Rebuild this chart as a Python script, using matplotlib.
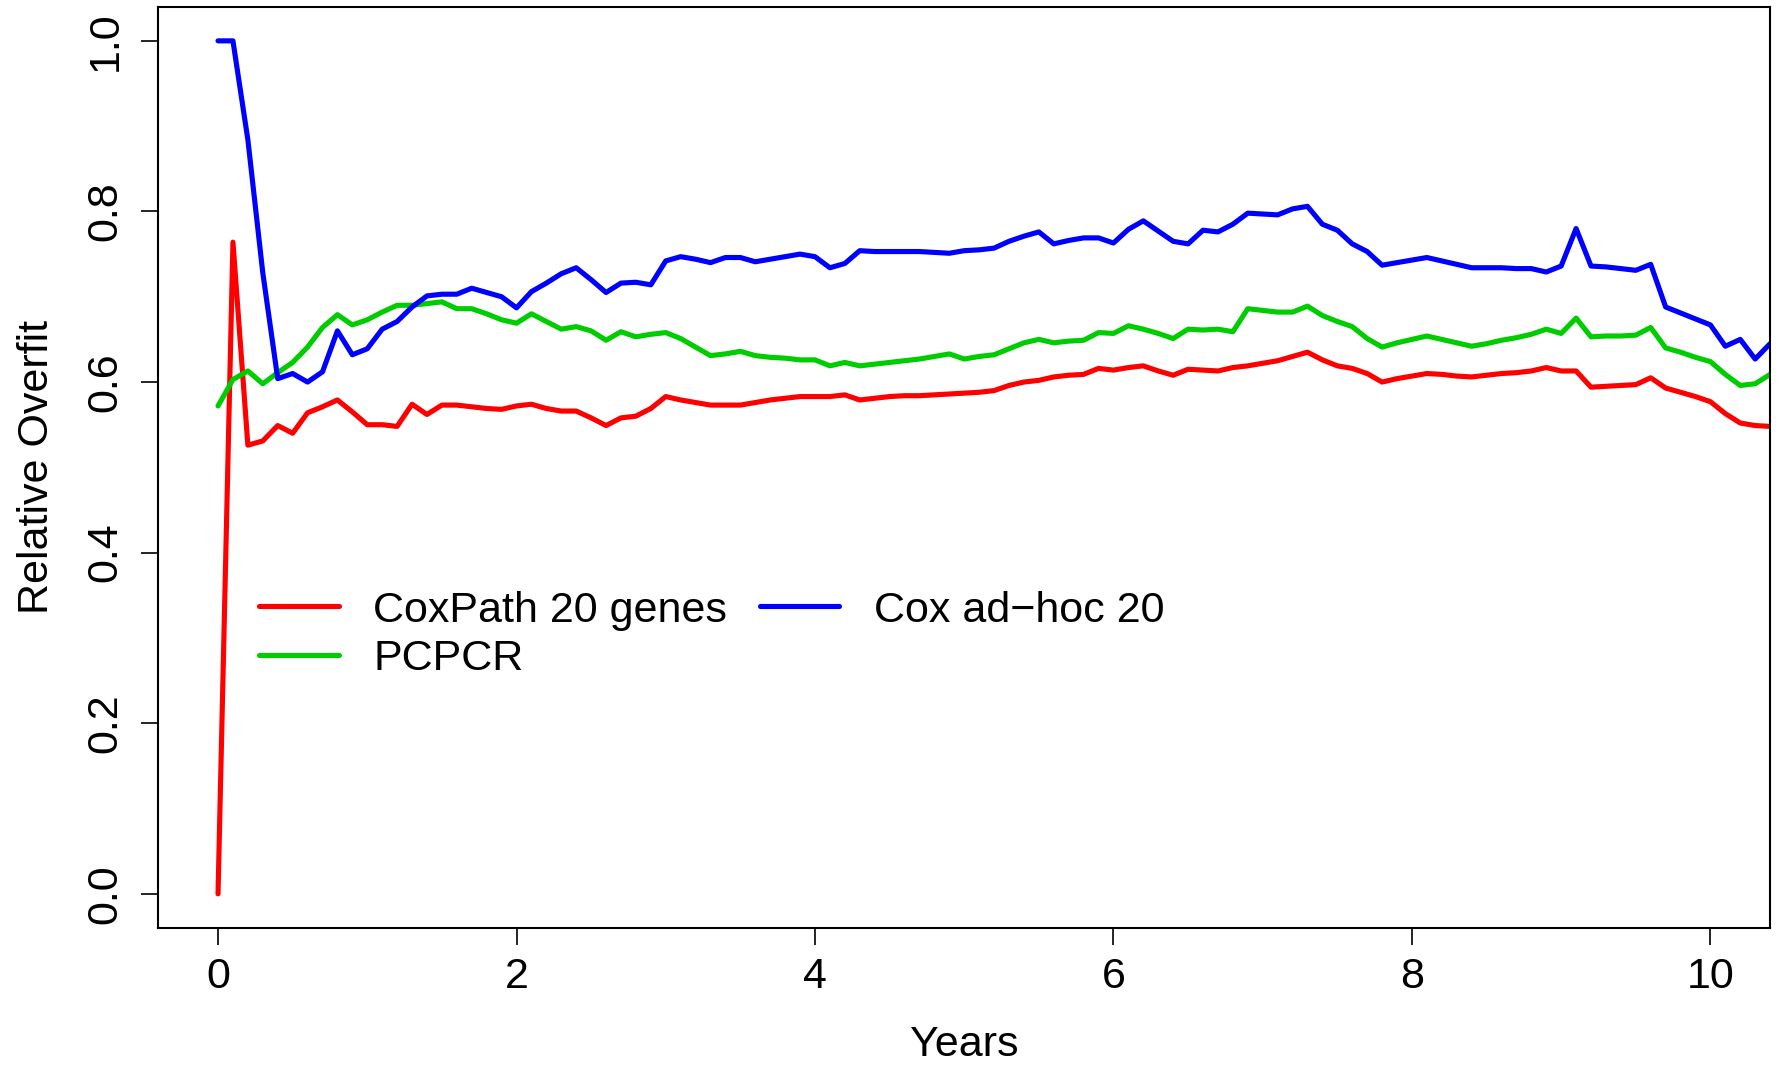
import numpy as np
import matplotlib
matplotlib.use("Agg")
import matplotlib.pyplot as plt

plt.rcParams['font.family'] = ['Liberation Sans', 'DejaVu Sans']

# time grid (years), one value every 0.1 year
years = np.round(np.arange(0, 10.41, 0.1), 1)

coxpath_20 = [
    0.000, 0.764, 0.526, 0.531, 0.549, 0.540, 0.564, 0.571, 0.579, 0.565,
    0.550, 0.550, 0.548, 0.574, 0.562, 0.573, 0.573, 0.571, 0.569, 0.568,
    0.572, 0.574, 0.569, 0.566, 0.566, 0.558, 0.549, 0.558, 0.560, 0.569,
    0.583, 0.579, 0.576, 0.573, 0.573, 0.573, 0.576, 0.579, 0.581, 0.583,
    0.583, 0.583, 0.585, 0.579, 0.581, 0.583, 0.584, 0.584, 0.585, 0.586,
    0.587, 0.588, 0.590, 0.596, 0.600, 0.602, 0.606, 0.608, 0.609, 0.616,
    0.614, 0.617, 0.619, 0.613, 0.608, 0.615, 0.614, 0.613, 0.617, 0.619,
    0.622, 0.625, 0.630, 0.635, 0.626, 0.619, 0.616, 0.610, 0.600, 0.604,
    0.607, 0.610, 0.609, 0.607, 0.606, 0.608, 0.610, 0.611, 0.613, 0.617,
    0.613, 0.613, 0.594, 0.595, 0.596, 0.597, 0.605, 0.593, 0.588, 0.583,
    0.577, 0.563, 0.552, 0.549, 0.548,
]

pcpcr = [
    0.572, 0.603, 0.613, 0.598, 0.611, 0.623, 0.641, 0.664, 0.679, 0.667,
    0.673, 0.682, 0.690, 0.690, 0.692, 0.694, 0.686, 0.686, 0.680, 0.673,
    0.669, 0.680, 0.671, 0.662, 0.665, 0.660, 0.649, 0.659, 0.653, 0.656,
    0.658, 0.651, 0.641, 0.631, 0.633, 0.636, 0.631, 0.629, 0.628, 0.626,
    0.626, 0.619, 0.623, 0.619, 0.621, 0.623, 0.625, 0.627, 0.630, 0.633,
    0.627, 0.630, 0.632, 0.639, 0.646, 0.650, 0.646, 0.648, 0.649, 0.658,
    0.657, 0.666, 0.662, 0.657, 0.651, 0.662, 0.661, 0.662, 0.659, 0.686,
    0.684, 0.682, 0.682, 0.689, 0.678, 0.671, 0.665, 0.651, 0.641, 0.646,
    0.650, 0.654, 0.650, 0.646, 0.642, 0.645, 0.649, 0.652, 0.656, 0.662,
    0.657, 0.675, 0.653, 0.654, 0.654, 0.655, 0.664, 0.640, 0.635, 0.629,
    0.624, 0.609, 0.596, 0.598, 0.609,
]

cox_adhoc_20 = [
    1.000, 1.000, 0.884, 0.728, 0.604, 0.610, 0.600, 0.612, 0.660, 0.632,
    0.639, 0.662, 0.671, 0.688, 0.701, 0.703, 0.703, 0.710, 0.705, 0.700,
    0.687, 0.706, 0.716, 0.727, 0.734, 0.720, 0.705, 0.716, 0.717, 0.714,
    0.742, 0.747, 0.744, 0.740, 0.746, 0.746, 0.741, 0.744, 0.747, 0.750,
    0.747, 0.734, 0.739, 0.754, 0.753, 0.753, 0.753, 0.753, 0.752, 0.751,
    0.754, 0.755, 0.757, 0.765, 0.771, 0.776, 0.762, 0.766, 0.769, 0.769,
    0.763, 0.779, 0.789, 0.777, 0.765, 0.762, 0.778, 0.776, 0.785, 0.798,
    0.797, 0.796, 0.803, 0.806, 0.785, 0.778, 0.762, 0.753, 0.737, 0.740,
    0.743, 0.746, 0.742, 0.738, 0.734, 0.734, 0.734, 0.733, 0.733, 0.729,
    0.736, 0.780, 0.736, 0.735, 0.733, 0.731, 0.738, 0.688, 0.681, 0.674,
    0.667, 0.642, 0.650, 0.627, 0.645,
]

series_names = ["CoxPath 20 genes", "PCPCR", "Cox ad\u2212hoc 20"]
series_colors = ["#ff0000", "#00cd00", "#0000ff"]

fs = 31
fig = plt.figure(figsize=(17.79, 10.68), dpi=100)
ax = fig.add_axes([0.0890, 0.1311, 0.9060, 0.8626])

lines = []
for vals, name, col in zip([coxpath_20, pcpcr, cox_adhoc_20], series_names, series_colors):
    ln, = ax.plot(years, vals, color=col, lw=3.7, label=name,
                  solid_joinstyle='round', solid_capstyle='round')
    lines.append(ln)

ax.set_xlim(-0.4, 10.4)
ax.set_ylim(-0.04, 1.04)
ax.set_xticks([0, 2, 4, 6, 8, 10])
ax.set_yticks([0.0, 0.2, 0.4, 0.6, 0.8, 1.0])
ax.set_yticklabels(["0.0", "0.2", "0.4", "0.6", "0.8", "1.0"])

for sp in ax.spines.values():
    sp.set_linewidth(1.5)
ax.tick_params(axis='both', length=12, width=1.2, labelsize=fs, direction='out')
ax.tick_params(axis='x', pad=9)
ax.tick_params(axis='y', pad=11.5)
for lab in ax.get_yticklabels():
    lab.set_rotation(90)
    lab.set_va('center')

ax.set_xlabel("Years", fontsize=fs, va='baseline')
ax.xaxis.set_label_coords(0.5, -0.139)
ax.set_ylabel("Relative Overfit", fontsize=fs, va='center')
ax.yaxis.set_label_coords(-0.075, 0.5)

ax.legend(handles=lines, ncol=2, frameon=False, fontsize=fs,
          loc='upper left', bbox_to_anchor=(0.052, 0.385),
          handlelength=1.85, handletextpad=0.8, columnspacing=0.75,
          labelspacing=0.2, borderaxespad=0)

fig.savefig("out.png", dpi=100)
